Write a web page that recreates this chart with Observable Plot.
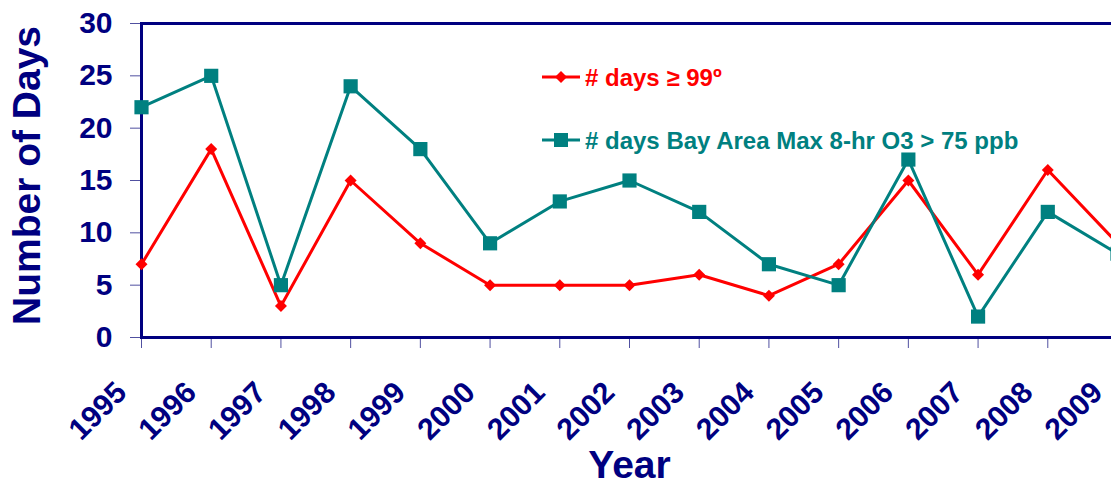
<!DOCTYPE html>
<html>
<head>
<meta charset="utf-8">
<script src="https://cdn.jsdelivr.net/npm/d3@7"></script>
<script src="https://cdn.jsdelivr.net/npm/@observablehq/plot@0.6"></script>
<style>
  html, body { margin: 0; padding: 0; background: #fff; overflow: hidden; }
  #chart svg { max-width: none !important; display: block; }
</style>
</head>
<body>
<div id="chart"></div>
<script>
// Annual counts, 1995–2009
const years = [1995, 1996, 1997, 1998, 1999, 2000, 2001, 2002, 2003, 2004, 2005, 2006, 2007, 2008, 2009];
const hotDays = [7, 18, 3, 15, 9, 5, 5, 5, 6, 4, 7, 15, 6, 16, 9];
const ozoneDays = [22, 25, 5, 24, 18, 9, 13, 15, 12, 7, 5, 17, 2, 12, 8];
const yTicks = [0, 5, 10, 15, 20, 25, 30];
const seriesNames = ["# days \u2265 99\u00BA", "# days Bay Area Max 8-hr O3 > 75 ppb"];

const NAVY = "#000080";
const RED = "#ff0000";
const TEAL = "#008080";
const FONT = "Arial, 'Liberation Sans', sans-serif";

const hot = years.map((year, i) => ({year, value: hotDays[i]}));
const ozone = years.map((year, i) => ({year, value: ozoneDays[i]}));

const chart = Plot.plot({
  width: 1130,
  height: 485,
  marginLeft: 141,
  marginRight: 13,
  marginTop: 23,
  marginBottom: 148,
  style: {fontFamily: FONT, background: "#fff", overflow: "hidden"},
  x: {type: "linear", domain: [1995, 2009]},
  y: {domain: [0, 30]},
  marks: [
    Plot.axisY({ticks: yTicks, tickSize: 11, tickPadding: 18, tickFormat: "d",
      fontSize: 30, fontWeight: "bold", fill: NAVY, stroke: "#5050a0", strokeWidth: 1, label: null}),
    Plot.axisX({ticks: years, tickSize: 11, tickFormat: () => "", stroke: "#5050a0", strokeWidth: 1, label: null}),
    Plot.text(years, {x: d => d, frameAnchor: "bottom", dx: -20, dy: 50, rotate: -45,
      textAnchor: "end", lineAnchor: "middle", fontSize: 30, fontWeight: "bold", fill: NAVY, text: d => String(d)}),
    Plot.text(["Number of Days"], {frameAnchor: "left", dx: -114, dy: -5, rotate: -90,
      textAnchor: "middle", lineAnchor: "middle", fontSize: 39, fontWeight: "bold", fill: NAVY}),
    Plot.text(["Year"], {frameAnchor: "bottom", dy: 140, lineAnchor: "bottom",
      fontSize: 39, fontWeight: "bold", fill: NAVY}),
    Plot.frame({stroke: NAVY, strokeWidth: 3}),
    Plot.lineY(hot, {x: "year", y: "value", stroke: RED, strokeWidth: 3}),
    Plot.dot(hot, {x: "year", y: "value", symbol: "diamond2", r: 5.4, fill: RED, stroke: null}),
    Plot.lineY(ozone, {x: "year", y: "value", stroke: TEAL, strokeWidth: 3}),
    Plot.dot(ozone, {x: "year", y: "value", symbol: "square", r: 8, fill: TEAL, stroke: null})
  ]
});

document.getElementById("chart").append(chart);

// Legend inside the plot area
const svg = d3.select(chart);
const legend = svg.append("g").attr("font-family", FONT).attr("font-weight", "bold")
  .attr("font-size", 24).attr("text-anchor", "start");
const items = [
  {name: seriesNames[0], color: RED, y: 77, symbol: d3.symbolDiamond2, size: 92},
  {name: seriesNames[1], color: TEAL, y: 140, symbol: d3.symbolSquare, size: 196}
];
items.forEach(it => {
  legend.append("line").attr("x1", 542).attr("x2", 580).attr("y1", it.y).attr("y2", it.y)
    .attr("stroke", it.color).attr("stroke-width", 3);
  legend.append("path").attr("d", d3.symbol(it.symbol, it.size)())
    .attr("transform", `translate(561,${it.y})`).attr("fill", it.color);
  legend.append("text").attr("x", 585).attr("y", it.y + 9).attr("fill", it.color).text(it.name);
});
</script>
</body>
</html>
